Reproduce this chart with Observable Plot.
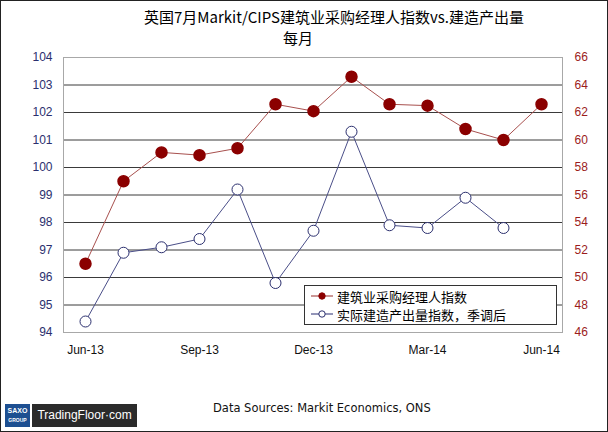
<!DOCTYPE html>
<html><head><meta charset="utf-8">
<script src="https://cdn.jsdelivr.net/npm/d3@7"></script>
<script src="https://cdn.jsdelivr.net/npm/@observablehq/plot@0.6"></script>
<style>
body{margin:0;background:#fff;}
#wrap{position:relative;width:608px;height:432px;overflow:hidden;background:#fff;font-family:"Liberation Sans",Arial,sans-serif;}
#border{position:absolute;left:0;top:0;width:608px;height:432px;box-sizing:border-box;border:1px solid #222;pointer-events:none;}
.t{position:absolute;white-space:nowrap;font-family:"Noto Sans CJK SC",sans-serif;color:#000;}
#legend{position:absolute;left:304px;top:285px;width:253px;height:40px;box-sizing:border-box;border:1px solid #333;background:#fff;font-family:"Noto Sans CJK SC",sans-serif;font-size:13px;}
.row{position:absolute;left:0;height:17px;line-height:17px;}
.row svg{position:absolute;left:6px;top:3px;}
.row span{position:absolute;left:32px;top:0;white-space:nowrap;line-height:17px;}
</style></head>
<body>
<div id="wrap">
<div id="chart" style="position:absolute;left:0;top:0;"></div>
<div class="t" id="title1" style="left:334px;top:7px;transform:translateX(-50%);font-size:15px;line-height:20px;"></div>
<div class="t" id="title2" style="left:298px;top:28px;transform:translateX(-50%);font-size:15px;line-height:20px;"></div>
<div id="legend"></div>
<div style="position:absolute;left:5px;top:404px;width:25px;height:23px;background:#1d4f91;color:#fff;font:bold 7px 'Liberation Sans';text-align:center;line-height:9px;padding-top:2px;box-sizing:border-box;">SAXO<br><span style="font-size:5px">GROUP</span></div>
<div style="position:absolute;left:32px;top:404px;width:105px;height:23px;background:#2b2b2b;color:#fff;font:12px 'Liberation Sans';line-height:23px;text-align:center;">TradingFloor·com</div>
<div class="t" id="caption" style="left:213px;top:401px;font-family:'DejaVu Sans';font-size:11.5px;color:#111;"></div>
<div id="border"></div>
</div>
<script>
const titleLine1 = "英国7月Markit/CIPS建筑业采购经理人指数vs.建造产出量";
const titleLine2 = "每月";
const caption = "Data Sources: Markit Economics, ONS";
const months = ["Jun-13","Jul-13","Aug-13","Sep-13","Oct-13","Nov-13","Dec-13","Jan-14","Feb-14","Mar-14","Apr-14","May-14","Jun-14"];
const xTicks = ["Jun-13","Sep-13","Dec-13","Mar-14","Jun-14"];
const pmiName = "建筑业采购经理人指数";
const outputName = "实际建造产出量指数，季调后";
// right axis (PMI)
const pmiValues = [51.0,57.0,59.1,58.9,59.4,62.6,62.1,64.6,62.6,62.5,60.8,60.0,62.6];
// left axis (output index), no Jun-14 value
const outputValues = [94.4,96.9,97.1,97.4,99.2,95.8,97.7,101.3,97.9,97.8,98.9,97.8,null];
const leftTicks = [94,95,96,97,98,99,100,101,102,103,104];
const rightTicks = [46,48,50,52,54,56,58,60,62,64,66];

document.getElementById("title1").textContent = titleLine1;
document.getElementById("title2").textContent = titleLine2;
document.getElementById("caption").textContent = caption;

const leftDomain = [94,104], rightDomain = [46,66];
const toLeft = v => leftDomain[0] + (v - rightDomain[0]) * (leftDomain[1]-leftDomain[0])/(rightDomain[1]-rightDomain[0]);

const pmi = months.map((m,i)=>({month:m, v:pmiValues[i], y:toLeft(pmiValues[i])}));
const out = months.map((m,i)=>({month:m, v:outputValues[i]})).filter(d=>d.v!=null);

const RED_LINE="#a8504e", RED="#8b0000", BLUE_LINE="#4a4e88", BLUE="#2b2f6e";

const chart = Plot.plot({
  width:608, height:380,
  marginLeft:63, marginRight:46, marginTop:57, marginBottom:48,
  style:{fontFamily:"'Liberation Sans', Arial, sans-serif", fontSize:"12px", background:"transparent"},
  x:{type:"point", domain:months, padding:0.5},
  y:{domain:leftDomain},
  marks:[
    Plot.gridY(leftTicks, {stroke:"#3a3a3a", strokeOpacity:1, strokeWidth:1}),
    Plot.frame({stroke:"#a8a8a8"}),
    Plot.axisY(leftTicks, {anchor:"left", tickSize:0, tickPadding:11, fill:"#2b2f6e", label:null, fontSize:12}),
    Plot.axisY(leftTicks, {anchor:"right", tickSize:0, tickPadding:12, fill:"#9b1c1c", label:null, fontSize:12,
      tickFormat:(d,i)=>String(rightTicks[leftTicks.indexOf(d)])}),
    Plot.axisX(xTicks, {tickSize:0, tickPadding:13, fill:"#111", label:null, fontSize:12}),
    Plot.line(pmi, {x:"month", y:"y", stroke:RED_LINE, strokeWidth:1}),
    Plot.line(out, {x:"month", y:"v", stroke:BLUE_LINE, strokeWidth:1}),
    Plot.dot(pmi, {x:"month", y:"y", r:5.5, fill:RED, stroke:RED}),
    Plot.dot(out, {x:"month", y:"v", r:5.5, fill:"#fff", stroke:BLUE, strokeWidth:1})
  ]
});
document.getElementById("chart").appendChild(chart);

const lg = document.getElementById("legend");
[[pmiName, RED_LINE, RED, RED, 2],[outputName, BLUE_LINE, "#fff", BLUE, 20]].forEach(([name, lc, fc, sc, top])=>{
  const row = document.createElement("div");
  row.className="row"; row.style.top = top+"px";
  row.innerHTML = `<svg width="24" height="10"><line x1="0" y1="5" x2="22" y2="5" stroke="${lc}" stroke-width="1.2"/><circle cx="11" cy="5" r="3.2" fill="${fc}" stroke="${sc}"/></svg><span>${name}</span>`;
  lg.appendChild(row);
});
</script>
</body></html>
